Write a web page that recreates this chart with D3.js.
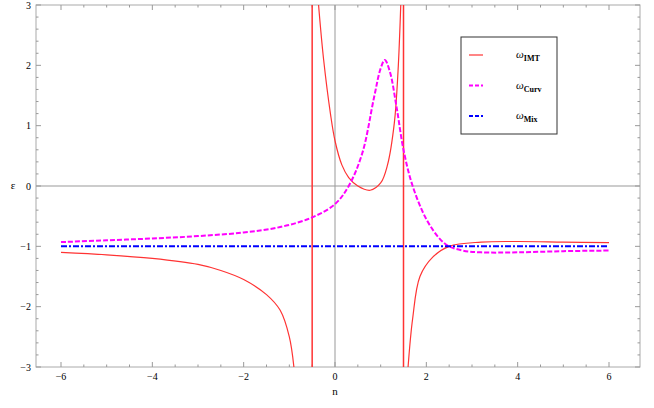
<!DOCTYPE html>
<html><head><meta charset="utf-8">
<script src="https://cdn.jsdelivr.net/npm/d3@7"></script>
<style>body{margin:0;background:#fff}text{font-family:"Liberation Serif",serif}</style>
</head><body><svg id="c" width="654" height="408"></svg>
<script>
// hand-read points, [n, ω]
var imtLeft = [[-6,-1.1],[-5,-1.14],[-4,-1.2],[-3,-1.3],[-2.5,-1.4],[-2,-1.55],[-1.5,-1.8],[-1.2,-2.06],[-1,-2.5],[-0.9,-3]];
var imtMid = [[-0.36,3],[-0.25,2.1],[-0.1,1.2],[0,0.75],[0.15,0.35],[0.3,0.14],[0.5,0.0],[0.77,-0.07],[1.0,0.05],[1.15,0.35],[1.3,1.05],[1.38,1.9],[1.44,3]];
var imtRight = [[1.6,-3],[1.7,-2.2],[1.86,-1.5],[2.14,-1.18],[2.5,-1.0],[3.2,-0.93],[4,-0.92],[5,-0.93],[6,-0.94]];
var curv = [[-6,-0.93],[-5,-0.9],[-4,-0.87],[-3,-0.83],[-2,-0.77],[-1.2,-0.68],[-0.5,-0.52],[0,-0.3],[0.3,0.0],[0.6,0.55],[0.85,1.45],[1.0,1.95],[1.09,2.09],[1.2,1.9],[1.35,1.3],[1.5,0.6],[1.7,0.0],[2.0,-0.55],[2.3,-0.88],[2.5,-1.0],[2.8,-1.07],[3.2,-1.1],[4,-1.1],[5,-1.08],[6,-1.07]];
var mix = [[-6,-1],[6,-1]];
var asymptotes = [-0.5, 1.5];
var xTicks = [-6,-4,-2,0,2,4,6];
var yTicks = [-3,-2,-1,0,1,2,3];
var legendNames = [["IMT","#ff3333","none"],["Curv","#ff00ff","8,3,3,3"],["Mix","#0000ff","6,2,2,2"]];

var svg = d3.select("#c");
var x = d3.scaleLinear().domain([-6,6]).range([61,609]);
var y = d3.scaleLinear().domain([-3,3]).range([367,5]);
var L = 36, R = 640, T = 5, B = 367;

var clip = svg.append("clipPath").attr("id","cp").append("rect")
  .attr("x",L).attr("y",T).attr("width",R-L).attr("height",B-T);

// zero lines
svg.append("line").attr("x1",L).attr("x2",R).attr("y1",y(0)).attr("y2",y(0)).attr("stroke","#999");
svg.append("line").attr("x1",x(0)).attr("x2",x(0)).attr("y1",T).attr("y2",B).attr("stroke","#999");

// frame
svg.append("rect").attr("x",L).attr("y",T).attr("width",R-L).attr("height",B-T)
  .attr("fill","none").attr("stroke","#aaa");

// ticks
var g = svg.append("g").attr("stroke","#999");
d3.range(-6,6.01,0.5).forEach(function(v) {
  var len = (v % 2 === 0) ? 5 : 2.5;
  g.append("line").attr("x1",x(v)).attr("x2",x(v)).attr("y1",B).attr("y2",B-len);
  g.append("line").attr("x1",x(v)).attr("x2",x(v)).attr("y1",T).attr("y2",T+len);
});
d3.range(-3,3.01,0.2).forEach(function(v) {
  var len = (Math.abs(v - Math.round(v)) < 1e-6) ? 5 : 2.5;
  g.append("line").attr("y1",y(v)).attr("y2",y(v)).attr("x1",L).attr("x2",L+len);
  g.append("line").attr("y1",y(v)).attr("y2",y(v)).attr("x1",R).attr("x2",R-len);
});
function lab(v) { return v < 0 ? "\u2212" + (-v) : "" + v; }
svg.selectAll(".xt").data(xTicks).enter().append("text")
  .attr("x",function(d){return x(d);}).attr("y",B+13).attr("text-anchor","middle")
  .attr("font-size",10).text(lab);
svg.selectAll(".yt").data(yTicks).enter().append("text")
  .attr("x",L-5).attr("y",function(d){return y(d)+3.5;}).attr("text-anchor","end")
  .attr("font-size",10).text(lab);
svg.append("text").attr("x",x(0)).attr("y",B+28).attr("text-anchor","middle").attr("font-size",11).text("n");
svg.append("text").attr("x",13).attr("y",y(0)+3).attr("text-anchor","middle").attr("font-size",11).text("\u03b5");

// curves
var line = d3.line().x(function(d){return x(d[0]);}).y(function(d){return y(d[1]);}).curve(d3.curveCatmullRom);
var plot = svg.append("g").attr("clip-path","url(#cp)");
plot.selectAll(".asy").data(asymptotes).enter().append("line")
  .attr("x1",function(d){return x(d);}).attr("x2",function(d){return x(d);})
  .attr("y1",T).attr("y2",B).attr("stroke","#ff3333").attr("stroke-width",1.5);
[imtLeft, imtMid, imtRight].forEach(function(seg) {
  plot.append("path").attr("d",line(seg)).attr("fill","none").attr("stroke","#ff3333").attr("stroke-width",1.2);
});
plot.append("path").attr("d",line(curv)).attr("fill","none").attr("stroke","#ff00ff")
  .attr("stroke-width",2).attr("stroke-dasharray","5,2");
plot.append("path").attr("d",line(mix)).attr("fill","none").attr("stroke","#0000ff")
  .attr("stroke-width",2).attr("stroke-dasharray","6,2,2,2");

// legend
svg.append("rect").attr("x",461).attr("y",37).attr("width",96).attr("height",97)
  .attr("fill","#fff").attr("stroke","#333");
legendNames.forEach(function(d, i) {
  var ly = 55 + i * 30.5;
  svg.append("line").attr("x1",469).attr("x2",483).attr("y1",ly).attr("y2",ly)
    .attr("stroke",d[1]).attr("stroke-width",i ? 2 : 1.2).attr("stroke-dasharray",i ? "4,2" : null);
  var t = svg.append("text").attr("x",516).attr("y",ly+3).attr("font-size",11);
  t.append("tspan").attr("font-style","italic").text("\u03c9");
  t.append("tspan").attr("dy",3).attr("font-size",8).attr("font-weight","bold").text(d[0]);
});
</script></body></html>
